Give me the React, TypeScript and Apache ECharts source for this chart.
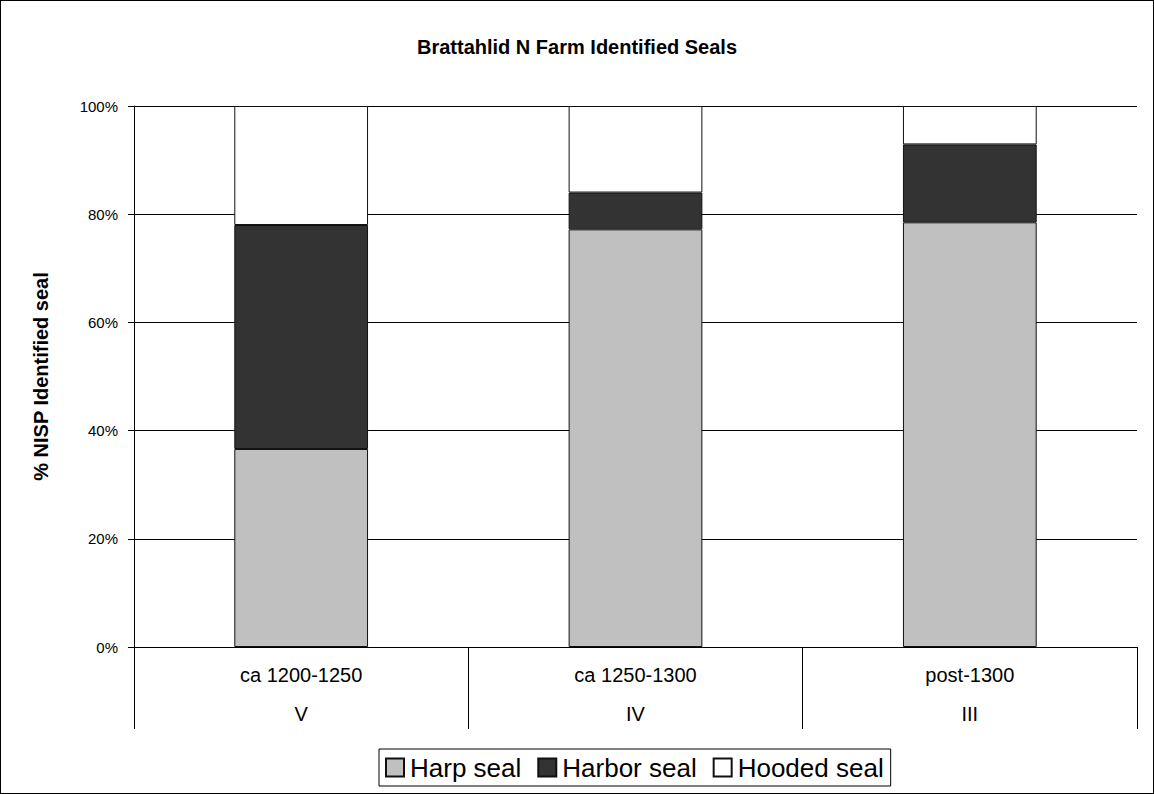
import React, { useEffect, useRef } from "react";
import * as echarts from "echarts";

const categories = ["ca 1200-1250", "ca 1250-1300", "post-1300"];
const phases = ["V", "IV", "III"];
const harpSeal = [36.6, 77.2, 78.5];
const harborSeal = [41.4, 6.8, 14.4];
const hoodedSeal = [22.0, 16.0, 7.1];
const yTicks = [0, 20, 40, 60, 80, 100];

export default function App() {
  const ref = useRef<HTMLDivElement>(null);
  useEffect(() => {
    document.body.style.margin = "0";
    const chart = echarts.init(ref.current!, null, { renderer: "svg" });
    const font = "Liberation Sans, Arial, sans-serif";
    const bar = (name: string, data: number[], color: string) => ({
      name,
      type: "bar",
      stack: "total",
      data,
      barWidth: "40%",
      xAxisIndex: 0,
      itemStyle: { color, borderColor: "#111", borderWidth: 1 },
    });
    chart.setOption({
      animation: false,
      textStyle: { fontFamily: font },
      title: {
        text: "Brattahlid N Farm Identified Seals",
        left: "center",
        top: 31,
        textStyle: { fontSize: 20, fontWeight: "bold", color: "#000", fontFamily: font },
      },
      grid: { left: 133, right: 16, top: 105, bottom: 146 },
      xAxis: [
        {
          type: "category",
          data: categories,
          position: "bottom",
          axisLine: { lineStyle: { color: "#000", width: 1 } },
          axisTick: { show: true, length: 82, lineStyle: { color: "#000" } },
          axisLabel: { margin: 18, fontSize: 20, color: "#000", fontFamily: font },
        },
        {
          type: "category",
          data: phases,
          position: "bottom",
          gridIndex: 0,
          axisLine: { show: false },
          axisTick: { show: false },
          axisLabel: { margin: 57, fontSize: 20, color: "#000", fontFamily: font },
        },
      ],
      yAxis: {
        type: "value",
        min: 0,
        max: 100,
        interval: 20,
        name: "% NISP Identified seal",
        nameLocation: "middle",
        nameGap: 83,
        nameMoveOverlap: false,
        nameTextStyle: { fontSize: 20, fontWeight: "bold", color: "#000", fontFamily: font },
        axisLine: { show: true, lineStyle: { color: "#000" } },
        axisTick: { show: true, length: 6, lineStyle: { color: "#000" } },
        axisLabel: {
          fontSize: 15,
          color: "#000",
          margin: 16,
          fontFamily: font,
          formatter: (v: number) => (yTicks.includes(v) ? v + "%" : ""),
        },
        splitLine: { show: true, lineStyle: { color: "#000", width: 1 } },
      },
      legend: {
        data: ["Harp seal", "Harbor seal", "Hooded seal"],
        left: 378,
        top: 748,
        borderColor: "#000",
        borderWidth: 1,
        padding: [4, 7, 4, 6],
        itemGap: 16,
        itemWidth: 18,
        itemHeight: 18,
        icon: "rect",
        textStyle: { fontSize: 26, lineHeight: 29, color: "#000", fontFamily: font, padding: [0, 0, 0, 1] },
      },
      series: [
        bar("Harp seal", harpSeal, "#c0c0c0"),
        bar("Harbor seal", harborSeal, "#333333"),
        bar("Hooded seal", hoodedSeal, "#ffffff"),
      ],
    });
    return () => chart.dispose();
  }, []);
  return (
    <div
      ref={ref}
      style={{ width: 1154, height: 794, border: "1px solid #000", boxSizing: "border-box" }}
    />
  );
}
